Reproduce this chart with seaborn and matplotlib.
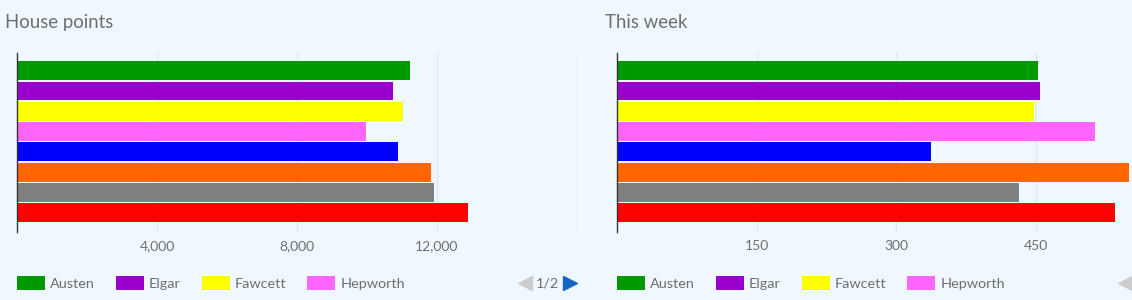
import matplotlib
matplotlib.use("Agg")
import matplotlib.pyplot as plt
import seaborn as sns
import pandas as pd
from matplotlib.patches import Patch
from matplotlib.lines import Line2D

# ---- data ----
houses = ["Austen", "Elgar", "Fawcett", "Hepworth", "House 5", "House 6", "House 7", "House 8"]
colors = ["#009900", "#9900cc", "#ffff00", "#ff66ff", "#0000ff", "#ff6600", "#808080", "#ff0000"]
house_points = [11230, 10750, 11030, 9970, 10890, 11830, 11920, 12890]
this_week = [452, 454, 448, 513, 337, 550, 432, 535]
left_ticks = [4000, 8000, 12000, 16000]
left_labels = ["4,000", "8,000", "12,000", ""]
right_ticks = [150, 300, 450, 600]
right_labels = ["150", "300", "450", ""]
legend_shown = houses[:4]

BG = "#f0f8ff"
GRID = "#d8e9f7"
TXT = "#6e6e6e"

sns.set_theme(style="white")
plt.rcParams["font.family"] = ["Lato", "DejaVu Sans"]

W, H = 1132, 300
fig = plt.figure(figsize=(W / 100, H / 100), dpi=100, facecolor=BG)


def px_axes(x0, x1, y0, y1):
    return fig.add_axes([x0 / W, 1 - y1 / H, (x1 - x0) / W, (y1 - y0) / H])


def draw(ax, values, xmax, ticks, labels):
    df = pd.DataFrame({"house": houses, "value": values})
    sns.barplot(data=df, x="value", y="house", hue="house", palette=colors,
                order=houses, hue_order=houses, legend=False, width=0.93,
                saturation=1, orient="h", ax=ax, linewidth=0)
    ax.set_facecolor(BG)
    ax.set_xlim(0, xmax)
    ax.set_ylim(7.95, -0.87)
    ax.set_xticks(ticks)
    ax.set_xticklabels(labels)
    ax.set_yticks([])
    ax.set_xlabel("")
    ax.set_ylabel("")
    ax.grid(axis="x", color=GRID, linewidth=1)
    ax.set_axisbelow(True)
    for s in ["top", "right", "bottom"]:
        ax.spines[s].set_visible(False)
    ax.spines["left"].set_color("#333333")
    ax.spines["left"].set_linewidth(1)
    ax.tick_params(axis="x", length=0, pad=6, labelsize=10, labelcolor=TXT)


axL = px_axes(17.4, 576.6, 53, 232)
draw(axL, house_points, 16000, left_ticks, left_labels)
axR = px_axes(617, 1175.8, 53, 232)
draw(axR, this_week, 600, right_ticks, right_labels)

for x, title in [(5, "House points"), (605, "This week")]:
    fig.text(x / W, 1 - 28 / H, title, fontsize=13.4, color=TXT,
             va="baseline", ha="left")

for off in [0, 600]:
    handles = [Patch(facecolor=c, edgecolor="none") for c in colors[:4]]
    fig.legend(handles, legend_shown, ncol=4, frameon=False,
               loc="center left", bbox_to_anchor=((17 + off) / W, 1 - 283 / H),
               borderpad=0, borderaxespad=0,
               handlelength=1.93, handleheight=1.04, handletextpad=0.36,
               columnspacing=1.45, labelcolor=TXT, prop={"size": 10.4})
    fig.add_artist(Line2D([(525 + off) / W], [1 - 283 / H], marker="<", markersize=10,
                          color="#cccccc", linestyle="none", transform=fig.transFigure))
    if off == 0:
        fig.text(547 / W, 1 - 283 / H, "1/2", color=TXT, fontsize=10.4,
                 va="center", ha="center")
        fig.add_artist(Line2D([569.5 / W], [1 - 283 / H], marker=">", markersize=10,
                              color="#1565c0", linestyle="none", transform=fig.transFigure))

fig.savefig("out.png", dpi=100, facecolor=BG)
